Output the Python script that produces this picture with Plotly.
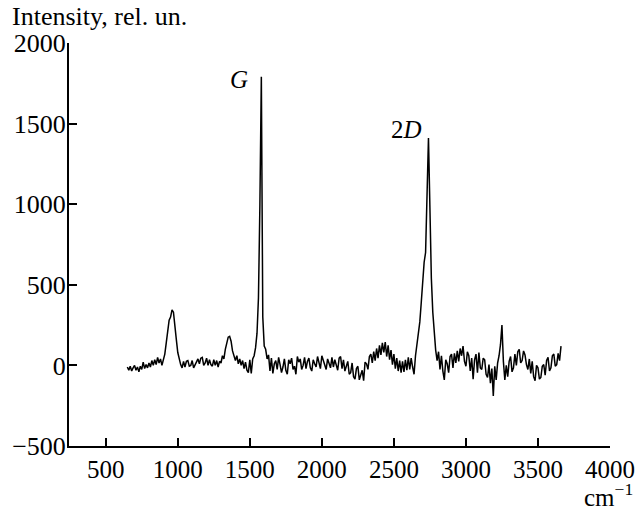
import plotly.graph_objects as go

# Raman shift grid (cm^-1), sampled every 10 cm^-1
wavenumber = list(range(650, 3661, 10))

intensity = [
    # 650-740
    -10, -30, -5, -35, -15, 0, -30, -10, -40, -5,
    # 750-840
    -25, 20, -20, 5, -15, 15, -10, 30, 0, 35,
    # 850-940
    5, 50, 15, 40, 0, 45, 70, 140, 230, 280,
    # 950-1040
    300, 345, 330, 260, 160, 80, 40, 5, -15, 25,
    # 1050-1140
    -10, 25, 30, -5, 0, 30, -15, 5, 30, 40,
    # 1150-1240
    10, 45, 50, 0, 15, 45, 0, 35, 5, -5,
    # 1250-1340
    35, 0, 30, -10, 25, 15, 60, 40, 100, 150,
    # 1350-1440
    175, 180, 150, 90, 50, 30, 60, 10, 40, 0,
    # 1450-1540
    30, -20, 20, -30, -45, 35, -50, 40, 60, 110,
    # 1550-1640
    200, 420, 1000, 1790, 300, 120, 100, 40, 65, -35,
    # 1650-1740
    45, -50, 10, 30, -25, 50, 5, -45, -10, 40,
    # 1750-1840
    -30, -55, 35, 10, 45, -25, -5, -55, 55, 20,
    # 1850-1940
    40, -25, 0, 50, -20, 25, 45, -15, -35, 35,
    # 1950-2040
    10, -10, 55, 20, -20, 60, 30, 0, -25, 40,
    # 2050-2140
    15, -15, 50, -10, 35, 5, -30, 45, 55, -20,
    # 2150-2240
    35, -35, -10, 25, -55, -45, 15, -70, -85, -20,
    # 2250-2340
    -5, -90, -60, -30, -95, 20, 10, -25, 55, 70,
    # 2350-2440
    15, 85, 30, 105, 45, 125, 65, 140, 80, 145,
    # 2450-2540
    55, 125, 35, 95, 5, 70, -20, 45, -35, 30,
    # 2550-2640
    -45, 25, -40, 35, -30, 50, -25, 45, -10, -55,
    # 2650-2740
    60, 120, 190, 270, 390, 520, 640, 700, 1040, 1410,
    # 2750-2840
    980, 540, 330, 180, 95, 30, 85, -25, 60, -35,
    # 2850-2940
    -90, 35, 10, -45, 55, 70, -15, 75, 15, 90,
    # 2950-3040
    25, 105, 60, 120, 25, -5, 85, 60, -35, 45,
    # 3050-3140
    -85, 35, 70, -45, 80, -15, -25, 45, 35, -55,
    # 3150-3240
    -75, 5, -110, -20, -190, -5, -90, 15, 60, 130,
    # 3250-3340
    250, 25, -90, 0, -70, 25, 55, -40, -15, 70,
    # 3350-3440
    0, 85, 100, 15, 30, 90, 65, 5, -25, 40,
    # 3450-3540
    -50, 25, -70, -95, 0, -15, -85, -75, -5, 5,
    # 3550-3640
    -60, 30, 50, -35, -15, 60, 70, -5, 5, 75,
    # 3650-3660
    30, 120,
]

x_ticks = [500, 1000, 1500, 2000, 2500, 3000, 3500, 4000]
y_ticks = [-500, 0, 500, 1000, 1500, 2000]
y_tick_text = ["\u2212500", "0", "500", "1000", "1500", "2000"]

FONT = "Liberation Serif, Times New Roman, serif"

fig = go.Figure()
fig.add_trace(go.Scatter(
    x=wavenumber, y=intensity, mode="lines",
    line=dict(color="black", width=1.5),
    showlegend=False, hoverinfo="skip",
))

axis_common = dict(
    showline=True, linecolor="black", linewidth=2,
    ticks="inside", ticklen=8, tickwidth=2, tickcolor="black",
    showgrid=False, zeroline=False, automargin=False,
)

fig.update_xaxes(range=[245, 4000], tickvals=x_ticks,
                 tickfont=dict(family=FONT, size=25, color="black"),
                 **axis_common)
fig.update_yaxes(range=[-500, 2000], tickvals=y_ticks, ticktext=y_tick_text,
                 tickfont=dict(family=FONT, size=26, color="black"),
                 ticklabelstandoff=-4,
                 **axis_common)

fig.add_annotation(x=1424, y=1774, text="<i>G</i>", showarrow=False,
                   font=dict(family=FONT, size=25, color="black"))
fig.add_annotation(x=2588, y=1462, text="2<i>D</i>", showarrow=False,
                   font=dict(family=FONT, size=25, color="black"))

fig.add_annotation(xref="paper", yref="paper", x=-0.109, y=1.0,
                   xanchor="left", yanchor="bottom", yshift=10,
                   text="Intensity, rel. un.", showarrow=False,
                   font=dict(family=FONT, size=26, color="black"))
fig.add_annotation(xref="paper", yref="paper", x=1.046, y=-0.122,
                   xanchor="right", yanchor="middle",
                   text="cm<sup>\u22121</sup>", showarrow=False,
                   font=dict(family=FONT, size=25, color="black"))

fig.update_layout(
    width=637, height=508,
    margin=dict(l=69, r=27, t=43, b=62, autoexpand=False),
    plot_bgcolor="white", paper_bgcolor="white",
)

# remove the page's default body margin so the figure fills the window exactly
fig.write_html(
    "out.html",
    config={"displayModeBar": False},
    post_script="document.body.style.margin='0';document.body.style.overflow='hidden';",
)
